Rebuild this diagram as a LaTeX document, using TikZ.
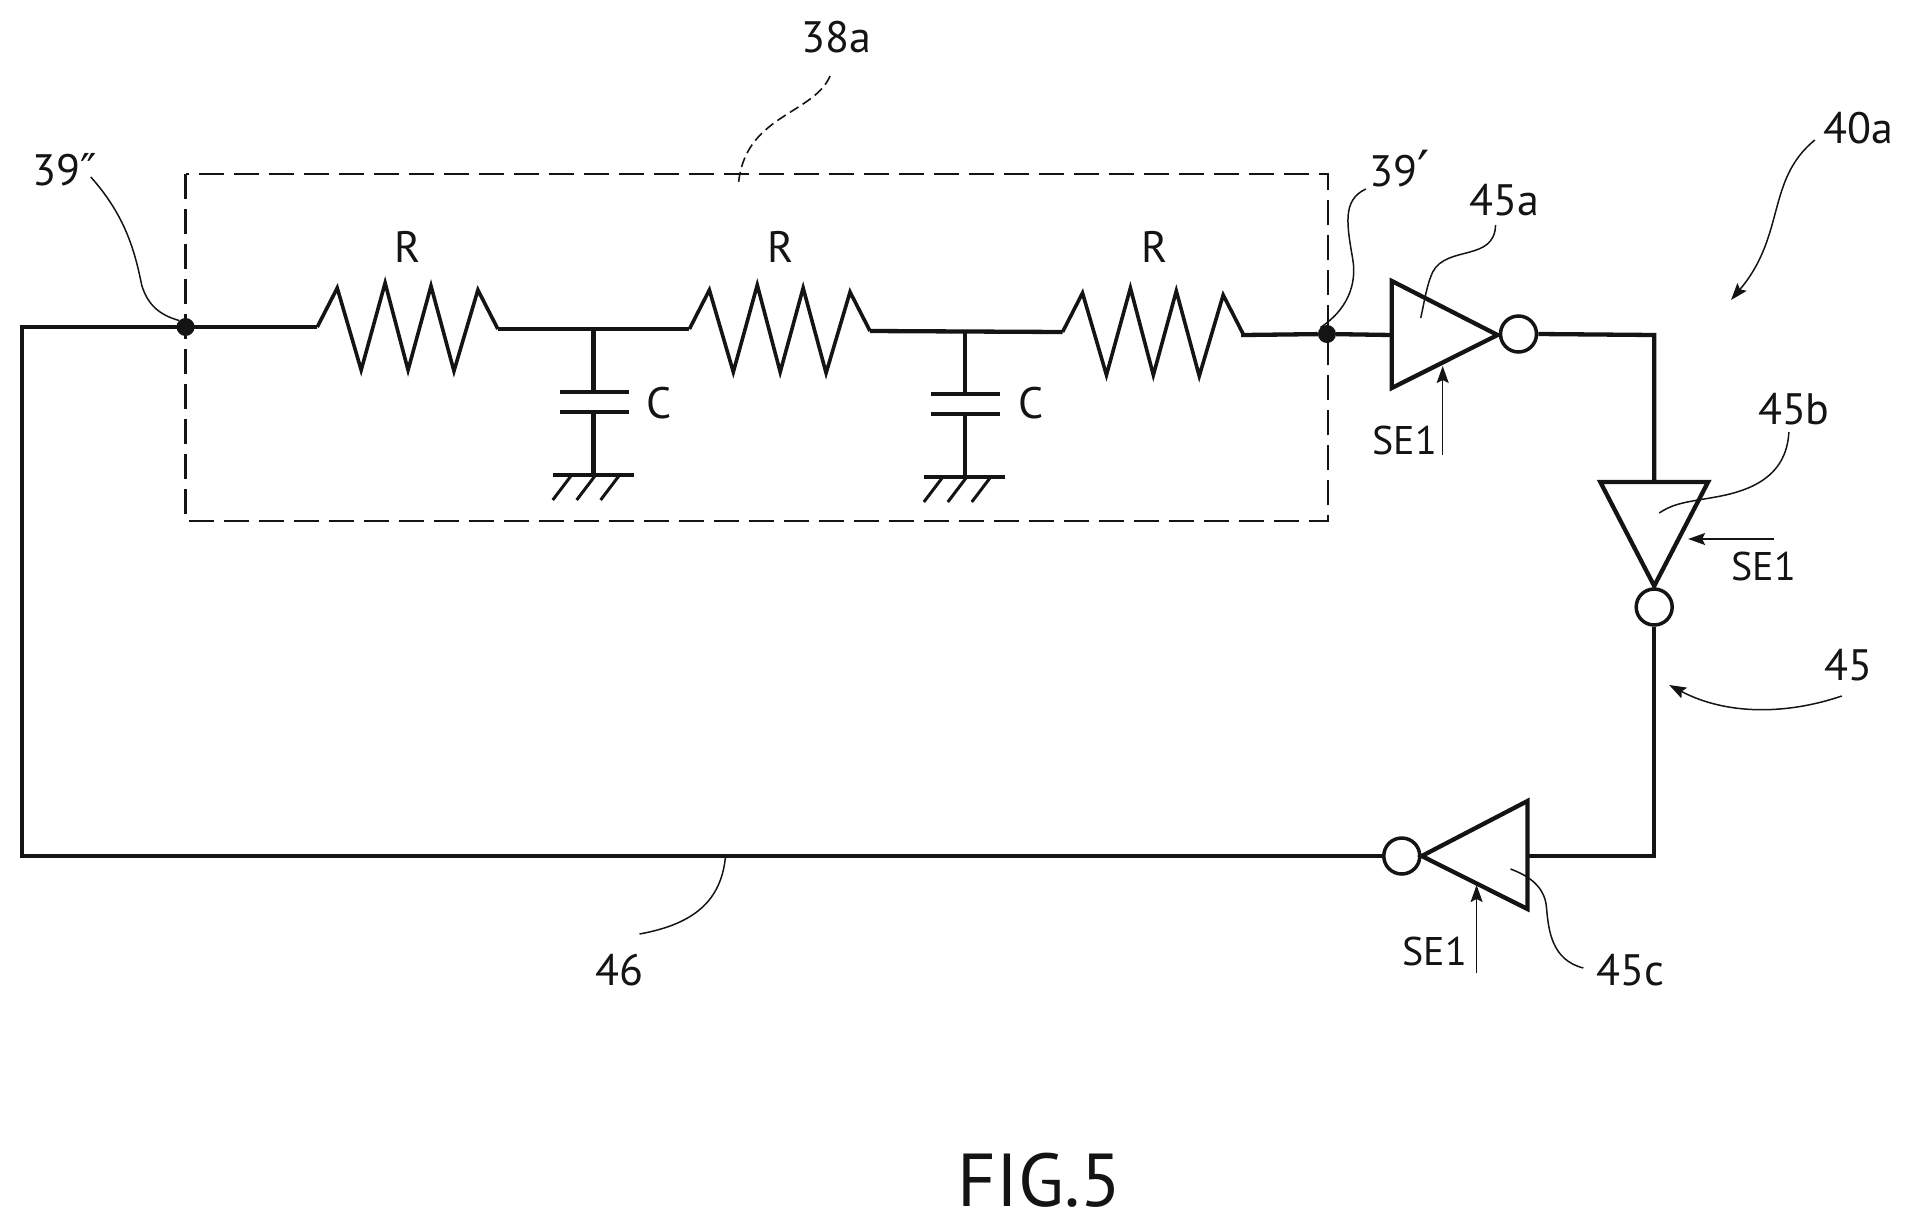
\documentclass[tikz,border=0pt]{standalone}
\usepackage{fontspec}
\setmainfont{PT Sans}
\newfontfamily\primefont{DejaVu Sans}
\usetikzlibrary{arrows.meta}
\definecolor{ink}{gray}{0.08}
\tikzset{
  wire/.style={draw=ink,line width=4.3pt,line join=miter},
  gatebody/.style={draw=ink,line width=4.3pt,line join=miter,miter limit=10,fill=none},
  bubble/.style={circle,draw=ink,line width=3.5pt,minimum size=36pt,inner sep=0pt},
  joint/.style={circle,fill=ink,minimum size=18pt,inner sep=0pt},
  leader/.style={draw=ink,line width=1.5pt},
  pointer/.style={leader,-{Stealth[length=17pt,width=12pt,inset=3pt]}},
  lab/.style={font=\fontsize{44pt}{48pt}\selectfont,text=ink,inner sep=0pt},
  selab/.style={font=\fontsize{40pt}{44pt}\selectfont,text=ink,inner sep=0pt},
  figlab/.style={font=\fontsize{75pt}{80pt}\selectfont,text=ink,inner sep=0pt},
  zigzag/.pic={
    \coordinate (-in) at (0,0);
    \coordinate (-out) at (181,2);
    \draw[draw=ink,line width=3.6pt,line join=miter,miter limit=10]
      (-in) -- (20,-39) -- (44,43) -- (68,-44) -- (91,43) -- (114,-41) -- (137,44) -- (161,-37) -- (-out);
  },
  capgnd/.pic={
    \coordinate (-top) at (0,0);
    \draw[wire] (-top) -- (0,63);
    \draw[wire] (-34,63) -- (35,63);
    \draw[wire] (-34,83) -- (35,83);
    \draw[wire] (0,83) -- (0,146);
    \draw[wire] (-41,146) -- (40,146);
    \draw[draw=ink,line width=3pt] (-22,146) -- (-41,171) (2,146) -- (-17,171) (26,146) -- (7,171);
  },
}
\begin{document}
\begin{tikzpicture}[x=0.9977pt,y=-1pt]
\useasboundingbox (0,0) rectangle (1915.4,1226);
% dashed box
\draw[draw=ink,line width=2.2pt,dash pattern=on 25pt off 10pt] (186,174) rectangle (1331,521);
% junctions
\node[joint] (d2) at (186,327) {};
\node[joint] (d1) at (1330,334) {};
% resistors and shunts
\pic (ra) at (318,327) {zigzag};
\pic (rb) at (691,329) {zigzag};
\pic (rc) at (1065,332) {zigzag};
\coordinate (ja) at (595,329);
\coordinate (jb) at (967,331);
\pic (ca) at (ja) {capgnd};
\pic (cb) at (jb) {capgnd};
% gates
\coordinate (ga1) at (1395,281); \coordinate (ga2) at (1395,388); \coordinate (ga3) at (1501,335);
\coordinate (gb1) at (1604,482); \coordinate (gb2) at (1712,482); \coordinate (gb3) at (1658,586);
\coordinate (gc1) at (1531,801); \coordinate (gc2) at (1531,909); \coordinate (gc3) at (1425,856);
\draw[gatebody] (ga1) -- (ga2) -- (ga3) -- cycle;
\draw[gatebody] (gb1) -- (gb2) -- (gb3) -- cycle;
\draw[gatebody] (gc1) -- (gc2) -- (gc3) -- cycle;
\node[bubble] (ba) at (1522,334) {};
\node[bubble] (bb) at (1658,607) {};
\node[bubble] (bc) at (1405,856) {};
% corner coordinates
\coordinate (k1) at (1658,335);
\coordinate (k2) at (1658,856);
\coordinate (k3) at (22,856);
\coordinate (k4) at (22,327);
\coordinate (ma) at (1395,335);
\coordinate (mb) at (1658,482);
\coordinate (mc) at (1531,856);
% wires
\draw[wire] (ra-in) -- (k4) -- (k3) -- (bc.west);
\draw[wire] (ra-out) -- (rb-in);
\draw[wire] (rb-out) -- (rc-in);
\draw[wire] (rc-out) -- ++(0,1) -- (d1) -- (ma);
\draw[wire] (ba.east) -- (k1) -- (mb);
\draw[wire] (bb.south) -- (k2) -- (mc);
% labels
\node[lab] (lR1) at (409,247) {R};
\node[lab] (lR2) at (782,247) {R};
\node[lab] (lR3) at (1157,247) {R};
\node[lab] (lC1) at (661,403) {C};
\node[lab] (lC2) at (1033,403) {C};
\node[lab] (l39b) at (65,170) {39{\primefont″}};
\node[lab] (l39a) at (1403,170) {39{\primefont\raisebox{-3pt}{\fontsize{54pt}{54pt}\selectfont′}}};
\node[lab] (l45a) at (1508,200) {45a};
\node[lab] (l45b) at (1798,409) {45b};
\node[lab] (l45c) at (1634,970) {45c};
\node[lab] (l45) at (1853,665) {45};
\node[lab] (l40a) at (1863,128) {40a};
\node[lab] (l38a) at (838,37) {38a};
\node[lab] (l46) at (621,970) {46};
\node[selab] (se1) at (1408,440) {SE1};
\node[selab] (se2) at (1768,566) {SE1};
\node[selab] (se3) at (1438,951) {SE1};
\node[figlab] (fig) at (1042,1180) {FIG.5};
% leaders
\coordinate (t39b) at (91,177);
\coordinate (t39a) at (1369,189);
\draw[leader] (t39b) .. controls (125,215) and (135,250) .. (142,285) .. controls (148,305) and (160,315) .. (d2.north west);
\draw[leader] (t39a) .. controls (1345,200) and (1350,225) .. (1356,260) .. controls (1360,285) and (1350,310) .. (d1.north west);
\coordinate (t45a) at (1499,225); \coordinate (e45a) at (1424,318);
\draw[leader] (t45a) .. controls (1498,262) and (1450,245) .. (1436,272) .. controls (1430,285) and (1428,300) .. (e45a);
\coordinate (t45b) at (1793,432); \coordinate (e45b) at (1663,513);
\draw[leader] (t45b) .. controls (1790,490) and (1730,495) .. (1702,500) .. controls (1685,503) and (1675,505) .. (e45b);
\coordinate (t45c) at (1587,968); \coordinate (e45c) at (1514,869);
\draw[leader] (t45c) .. controls (1555,960) and (1552,930) .. (1550,907) .. controls (1548,885) and (1530,875) .. (e45c);
\coordinate (t46) at (641,934); \coordinate (e46) at (727,858);
\draw[leader] (t46) .. controls (690,925) and (722,905) .. (e46);
\coordinate (t38) at (832,76); \coordinate (e38) at (740,186);
\draw[draw=ink,line width=1.6pt,dash pattern=on 10pt off 5pt] (t38) .. controls (815,115) and (745,115) .. (e38);
% pointer arrows
\coordinate (t40) at (1819,140); \coordinate (e40) at (1735,300);
\draw[pointer] (t40) .. controls (1770,180) and (1790,235) .. (e40);
\coordinate (t45) at (1846,696); \coordinate (e45) at (1673,685);
\draw[pointer] (t45) .. controls (1790,715) and (1730,715) .. (e45);
\coordinate (sa) at (1446,455); \coordinate (sae) at (1446,366);
\draw[pointer] (sa) -- (sae);
\coordinate (sb) at (1778,539); \coordinate (sbe) at (1692,539);
\draw[pointer] (sb) -- (sbe);
\coordinate (sc) at (1480,973); \coordinate (sce) at (1480,885);
\draw[pointer] (sc) -- (sce);
\end{tikzpicture}
\end{document}
